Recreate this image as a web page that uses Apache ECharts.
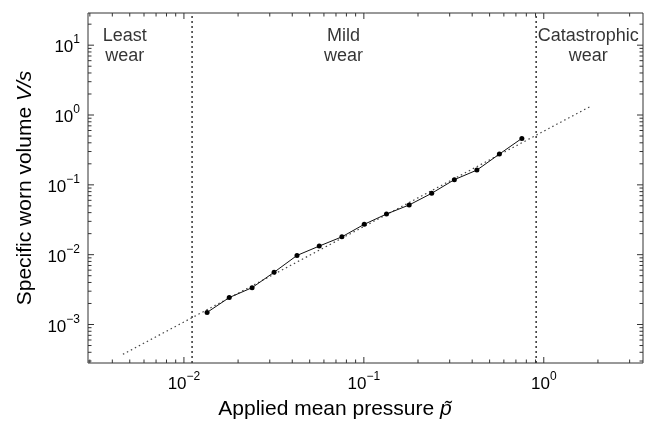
<!DOCTYPE html>
<html><head><meta charset="utf-8">
<script src="https://cdn.jsdelivr.net/npm/echarts@6/dist/echarts.min.js"></script>
<style>html,body{margin:0;padding:0;background:#fff}#c{width:647px;height:425px}</style>
</head><body><div id="c"></div>
<script>
// ---- data ----
const pressure = [0.01345, 0.01786, 0.02393, 0.0317, 0.0425, 0.0565, 0.0755, 0.1005, 0.1336, 0.1786, 0.2383, 0.3184, 0.4248, 0.5663, 0.7554];
const volume   = [0.00149, 0.00243, 0.00337, 0.0056, 0.00975, 0.01328, 0.0180, 0.0272, 0.0382, 0.0515, 0.0757, 0.1186, 0.1626, 0.2754, 0.4627];
const fitPressure = [0.00458, 1.805];
const fitVolume   = [0.000374, 1.316];
const boundaries  = [0.0111, 0.907];
const regionNames = ['Least\nwear', 'Mild\nwear', 'Catastrophic\nwear'];
const regionX     = [0.00469, 0.077, 1.767];
const regionY     = [9.57, 9.57, 9.57];
const xRange = [0.00293, 3.56];
const yRange = [0.000281, 28.9];
const xDecades = [-3, -2, -1, 0];
const yDecades = [-4, -3, -2, -1, 0, 1];

const FONT = 'Liberation Sans';
function tickList(decades, range) {
  const out = [];
  decades.forEach(k => {
    for (let m = 1; m <= 9; m++) {
      const v = m * Math.pow(10, k);
      if (v >= range[0] && v <= range[1]) out.push([v, m === 1 ? 1 : 0]);
    }
  });
  return out;
}
const xTicks = tickList(xDecades, xRange).map(t => [t[0], yRange[0], t[1]]);
const yTicks = tickList(yDecades, yRange).map(t => [xRange[0], t[0], t[1]]);

function powLabel(value) {
  const e = Math.log10(value);
  const n = Math.round(e);
  if (Math.abs(e - n) > 1e-6) return '';
  return '{b|10}{s|' + (n < 0 ? '\u2212' + (-n) : n) + '}';
}
const richLbl = {
  b: {fontSize: 17, fontFamily: FONT, color: '#000', lineHeight: 22, verticalAlign: 'bottom'},
  s: {fontSize: 12, fontFamily: FONT, color: '#000', lineHeight: 12, verticalAlign: 'top'}
};

const chart = echarts.init(document.getElementById('c'), null, {renderer: 'canvas'});
const MAJ = 6, MIN = 3.5;
const tickStyle = {stroke: '#333', lineWidth: 1};

const boundarySeries = boundaries.map(b => ({
  type: 'line', data: [[b, yRange[0]], [b, yRange[1]]], symbol: 'none', silent: true,
  lineStyle: {color: '#333', width: 1.5, type: [2, 3]}, z: 2
}));

chart.setOption({
  animation: false,
  backgroundColor: '#fff',
  grid: {left: 88, right: 4, top: 13, bottom: 58, show: true, borderColor: '#333', borderWidth: 1, backgroundColor: 'transparent'},
  xAxis: {
    type: 'log', logBase: 10, min: xRange[0], max: xRange[1],
    axisLine: {show: false}, axisTick: {show: false}, splitLine: {show: false}, minorTick: {show: false},
    axisLabel: {formatter: powLabel, rich: richLbl, margin: 8, showMinLabel: true, showMaxLabel: true},
    name: '{n|Applied mean pressure }{p|p\u0303}', nameLocation: 'middle', nameGap: 36,
    nameTextStyle: {padding: [0, 61, 0, 0], rich: {
      n: {fontSize: 21, fontFamily: FONT, color: '#000'},
      p: {fontSize: 21, fontFamily: FONT, fontStyle: 'italic', color: '#000'}
    }}
  },
  yAxis: {
    type: 'log', logBase: 10, min: yRange[0], max: yRange[1],
    axisLine: {show: false}, axisTick: {show: false}, splitLine: {show: false}, minorTick: {show: false},
    axisLabel: {formatter: powLabel, rich: richLbl, margin: 8, showMinLabel: true, showMaxLabel: true},
    name: '{n|Specific worn volume }{i|V/s}', nameLocation: 'middle', nameGap: 52,
    nameTextStyle: {rich: {
      n: {fontSize: 21, fontFamily: FONT, color: '#000'},
      i: {fontSize: 21, fontFamily: FONT, fontStyle: 'italic', color: '#000'}
    }}
  },
  series: boundarySeries.concat([
    {
      type: 'line', data: fitPressure.map((x, i) => [x, fitVolume[i]]),
      symbol: 'none', silent: true, lineStyle: {color: '#444', width: 1.2, type: [1.5, 3]}, z: 2
    },
    {
      type: 'line', data: pressure.map((x, i) => [x, volume[i]]),
      symbol: 'circle', symbolSize: 5, showSymbol: true,
      itemStyle: {color: '#000'}, lineStyle: {color: '#111', width: 1}, z: 3
    },
    {
      type: 'scatter', data: regionX.map((x, i) => [x, regionY[i], regionNames[i]]),
      symbolSize: 1, itemStyle: {color: 'rgba(0,0,0,0)'}, silent: true,
      label: {show: true, position: 'inside', formatter: p => p.data[2], fontSize: 18, fontFamily: FONT,
              color: '#000', lineHeight: 20, align: 'center', verticalAlign: 'middle'}
    },
    {
      type: 'custom', data: xTicks, clip: false, silent: true, z: 5,
      renderItem: (params, api) => {
        const v = api.value(0), len = api.value(2) ? MAJ : MIN;
        const b = api.coord([v, yRange[0]]), t = api.coord([v, yRange[1]]);
        return {type: 'group', children: [
          {type: 'line', shape: {x1: b[0], y1: b[1], x2: b[0], y2: b[1] - len}, style: tickStyle},
          {type: 'line', shape: {x1: t[0], y1: t[1], x2: t[0], y2: t[1] + len}, style: tickStyle}
        ]};
      }
    },
    {
      type: 'custom', data: yTicks, clip: false, silent: true, z: 5,
      renderItem: (params, api) => {
        const v = api.value(1), len = api.value(2) ? MAJ : MIN;
        const l = api.coord([xRange[0], v]), r = api.coord([xRange[1], v]);
        return {type: 'group', children: [
          {type: 'line', shape: {x1: l[0], y1: l[1], x2: l[0] + len, y2: l[1]}, style: tickStyle},
          {type: 'line', shape: {x1: r[0], y1: r[1], x2: r[0] - len, y2: r[1]}, style: tickStyle}
        ]};
      }
    }
  ])
});
</script>
</body></html>
